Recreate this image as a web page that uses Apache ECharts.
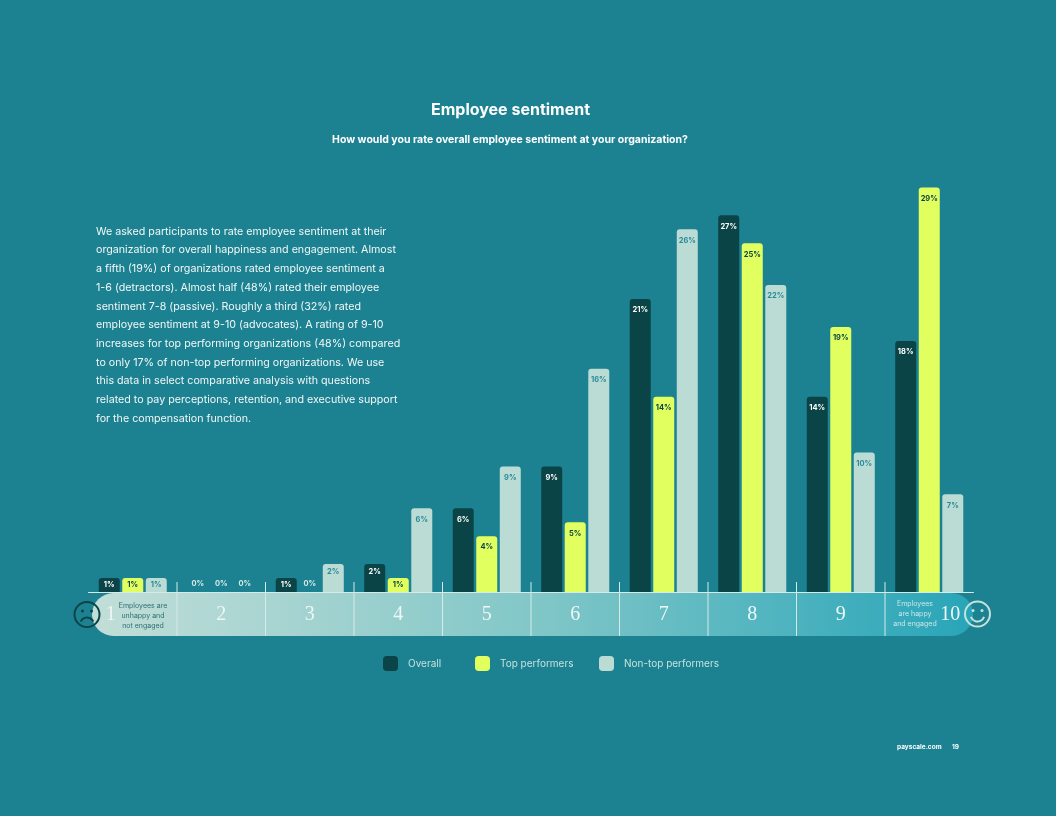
<!DOCTYPE html>
<html>
<head>
<meta charset="utf-8">
<style>html,body{margin:0;padding:0;background:#1c8292}#c{width:1056px;height:816px}</style>
<script src="https://cdn.jsdelivr.net/npm/echarts@6/dist/echarts.min.js"></script>
</head>
<body>
<div id="c"></div>
<script>
const categories = ['1','2','3','4','5','6','7','8','9','10'];
const overall = [1,0,1,2,6,9,21,27,14,18];
const topPerformers = [1,0,0,1,4,5,14,25,19,29];
const nonTop = [1,0,2,6,9,16,26,22,10,7];
const seriesNames = ['Overall','Top performers','Non-top performers'];
const paragraph = [
 'We asked participants to rate employee sentiment at their',
 'organization for overall happiness and engagement. Almost',
 'a fifth (19%) of organizations rated employee sentiment a',
 '1-6 (detractors). Almost half (48%) rated their employee',
 'sentiment 7-8 (passive). Roughly a third (32%) rated',
 'employee sentiment at 9-10 (advocates). A rating of 9-10',
 'increases for top performing organizations (48%) compared',
 'to only 17% of non-top performing organizations. We use',
 'this data in select comparative analysis with questions',
 'related to pay perceptions, retention, and executive support',
 'for the compensation function.'
];
const FONT = 'Inter';
const DARK = '#0b4446', LIME = '#e2ff60', PALE = '#bbdcd5', BG = '#1c8292', LIGHT = '#c6e2dc';
const L = 88.5, R = 973.5, BASE = 592, BAND_B = 636, STEP = (R - L) / categories.length;

function mkSeries(name, values, color, labelColor) {
  return {
    name, type: 'bar', barWidth: 21, barGap: '12%',
    itemStyle: { color, borderRadius: [3,3,0,0] },
    data: values.map(v => ({
      value: v,
      label: {
        show: true,
        position: v === 0 ? 'top' : 'insideTop',
        distance: v === 0 ? 4 : (v === 1 ? 3 : (v === 2 ? 4 : 7)),
        formatter: v + '%',
        color: v === 0 ? '#d5ebe6' : labelColor,
        fontFamily: FONT, fontSize: 7.5, fontWeight: 700
      }
    }))
  };
}

const graphics = [];
graphics.push({ type:'rect', z:-10, silent:true,
  shape:{ x:92, y:BASE+1, width:881, height:BAND_B-BASE-1, r:21.5 },
  style:{ fill:{ type:'linear', x:0, y:0, x2:1, y2:0, colorStops:[
    {offset:0,color:'#c2ded8'},{offset:0.5,color:'#82c7c8'},{offset:1,color:'#28a5b8'}] } } });
for (let i = 1; i < categories.length; i++) {
  graphics.push({ type:'line', z:5, silent:true,
    shape:{ x1:L+i*STEP, y1:BASE-10, x2:L+i*STEP, y2:BAND_B },
    style:{ stroke:'#d6ebe7', lineWidth:1 } });
}
function note(lines, cx, y0, color) {
  lines.forEach((t,i) => graphics.push({ type:'text', z:5, silent:true, x:cx, y:y0+i*10,
    style:{ text:t, fill:color, font:'400 7px '+FONT, align:'center', verticalAlign:'middle' } }));
}
note(['Employees are','unhappy and','not engaged'], 143, 605.5, '#2f6f72');
note(['Employees','are happy','and engaged'], 915, 603.5, '#cbe6e6');

function face(cx, cy, color, happy) {
  graphics.push({ type:'circle', z:6, silent:true, shape:{cx,cy,r:12.5}, style:{ fill:'none', stroke:color, lineWidth:2 } });
  [-4.5,4.5].forEach(d => graphics.push({ type:'circle', z:6, silent:true, shape:{cx:cx+d,cy:cy-3.5,r:1.5}, style:{fill:color} }));
  graphics.push({ type:'arc', z:6, silent:true,
    shape: happy ? {cx,cy:cy+0.5,r:7,startAngle:0.35,endAngle:Math.PI-0.35}
                 : {cx,cy:cy+10,r:7,startAngle:Math.PI+0.45,endAngle:2*Math.PI-0.45},
    style:{ fill:'none', stroke:color, lineWidth:2 } });
}
face(87, 614.5, DARK, false);
face(977.5, 614, LIGHT, true);

graphics.push({ type:'text', silent:true, x:897, y:747, style:{ text:'payscale.com', fill:'#ffffff', font:'700 6.5px '+FONT, verticalAlign:'middle' } });
graphics.push({ type:'text', silent:true, x:952, y:747, style:{ text:'19', fill:'#ffffff', font:'700 6.5px '+FONT, verticalAlign:'middle' } });
paragraph.forEach((t,i) => graphics.push({ type:'text', silent:true, x:96, y:231.5+i*18.7,
  style:{ text:t, fill:'#f2f7f6', font:'400 10.7px '+FONT, verticalAlign:'middle' } }));

function legendAt(name, left) {
  return { data:[name], left, top:656, itemWidth:15, itemHeight:15, itemGap:0, padding:0,
    itemStyle:{ borderRadius:2 },
    textStyle:{ color:LIGHT, fontFamily:FONT, fontSize:10, padding:[0,0,0,5] } };
}

const chart = echarts.init(document.getElementById('c'), null, { renderer:'canvas' });
chart.setOption({
  backgroundColor: BG,
  animation: false,
  title: [
    { text:'Employee sentiment', left:505.5, top:97, textAlign:'center',
      textStyle:{ color:'#ffffff', fontFamily:FONT, fontSize:16, fontWeight:700 } },
    { text:'How would you rate overall employee sentiment at your organization?', left:505, top:129, textAlign:'center',
      textStyle:{ color:'#ffffff', fontFamily:FONT, fontSize:10.5, fontWeight:700 } }
  ],
  legend: [ legendAt(seriesNames[0],383), legendAt(seriesNames[1],475), legendAt(seriesNames[2],599) ],
  grid: { left:L, right:1056-R, top:BASE-418.5, bottom:816-BASE },
  xAxis: {
    type:'category',
    data: categories.map((c,i) => ({ value:c, textStyle:
      i===0 ? {padding:[0,44,0,0]} : (i===categories.length-1 ? {padding:[0,0,0,42]} : {}) })),
    axisLine:{ lineStyle:{ color:'#d6ebe7', width:1 } },
    axisTick:{ show:false },
    axisLabel:{ color:'#eef7f5', fontFamily:'Liberation Serif', fontSize:20, margin:13 }
  },
  yAxis: { type:'value', min:0, max:30, show:false },
  graphic: graphics,
  series: [
    mkSeries(seriesNames[0], overall, DARK, '#ffffff'),
    mkSeries(seriesNames[1], topPerformers, LIME, DARK),
    mkSeries(seriesNames[2], nonTop, PALE, '#2a8a98')
  ]
});
</script>
</body>
</html>
